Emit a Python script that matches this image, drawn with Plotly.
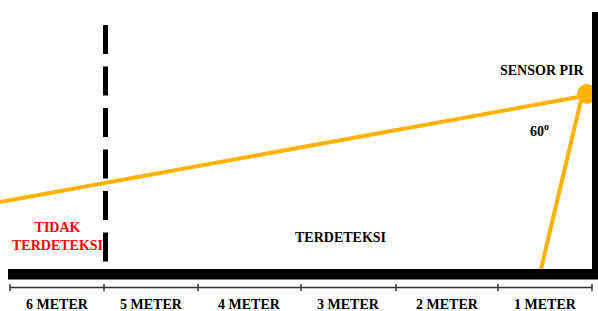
import plotly.graph_objects as go

# ---- data ----
meter_labels = ["6 METER", "5 METER", "4 METER", "3 METER", "2 METER", "1 METER"]
ruler_ticks = [10, 104, 198, 301, 396, 498, 592]   # boundaries (px)
sensor_label = "SENSOR PIR"
angle_label = "60<sup>o</sup>"
zone_detected = "TERDETEKSI"
zone_not_detected = "TIDAK<br>TERDETEKSI"

W, H = 598, 311
sensor = (587, 94)
beam_far = (0, 202)
beam_near = (541, 269)
limit_x = 105.5

fig = go.Figure()

fig.add_trace(go.Scatter(x=[0, W], y=[0, H], mode="markers",
                         marker=dict(opacity=0), hoverinfo="skip", showlegend=False))

shapes = []
shapes.append(dict(type="line", x0=beam_far[0], y0=beam_far[1], x1=sensor[0] - 3, y1=sensor[1] + 2,
                   line=dict(color="#FFB300", width=4)))
shapes.append(dict(type="line", x0=sensor[0] - 5, y0=sensor[1] + 2, x1=beam_near[0], y1=beam_near[1],
                   line=dict(color="#FFB300", width=4)))
shapes.append(dict(type="circle", x0=sensor[0] - 10, y0=sensor[1] - 10, x1=sensor[0] + 10, y1=sensor[1] + 10,
                   fillcolor="#FFB300", line=dict(width=0)))
shapes.append(dict(type="line", x0=limit_x, y0=25, x1=limit_x, y1=268,
                   line=dict(color="black", width=5, dash="29px,12.5px")))
shapes.append(dict(type="rect", x0=592, y0=12, x1=600, y1=279, fillcolor="black", line=dict(width=0)))
shapes.append(dict(type="rect", x0=8, y0=269, x1=600, y1=279.5, fillcolor="black", line=dict(width=0)))
shapes.append(dict(type="line", x0=ruler_ticks[0], y0=287.5, x1=ruler_ticks[-1], y1=287.5,
                   line=dict(color="#333333", width=1.5)))
for t in ruler_ticks:
    shapes.append(dict(type="line", x0=t, y0=284, x1=t, y1=291, line=dict(color="#333333", width=1.5)))

fig.update_layout(shapes=shapes)

font_b = dict(family="Liberation Serif", size=14, color="black")
ann = []
for i, lab in enumerate(meter_labels):
    cx = (ruler_ticks[i] + ruler_ticks[i + 1]) / 2
    ann.append(dict(x=cx, y=304, text=f"<b>{lab}</b>", showarrow=False, font=font_b,
                    xanchor="center", yanchor="middle"))
ann.append(dict(x=542, y=70, text=f"<b>{sensor_label}</b>", showarrow=False, font=font_b,
                xanchor="center", yanchor="middle"))
ann.append(dict(x=539, y=130, text=f"<b>{angle_label}</b>", showarrow=False, font=font_b,
                xanchor="center", yanchor="middle"))
ann.append(dict(x=340, y=237, text=f"<b>{zone_detected}</b>", showarrow=False, font=font_b,
                xanchor="center", yanchor="middle"))
ann.append(dict(x=57, y=236, text=f"<b>{zone_not_detected}</b>", showarrow=False,
                font=dict(family="Liberation Serif", size=14, color="#FF0000"),
                xanchor="center", yanchor="middle"))
fig.update_layout(annotations=ann)

fig.update_xaxes(range=[0, W], visible=False, fixedrange=True)
fig.update_yaxes(range=[H, 0], visible=False, fixedrange=True)
fig.update_layout(width=W, height=H, margin=dict(l=0, r=0, t=0, b=0),
                  plot_bgcolor="white", paper_bgcolor="white", showlegend=False)

fig.write_html("out.html", config={"displayModeBar": False},
               post_script="document.body.style.margin='0';document.body.style.overflow='hidden';")
